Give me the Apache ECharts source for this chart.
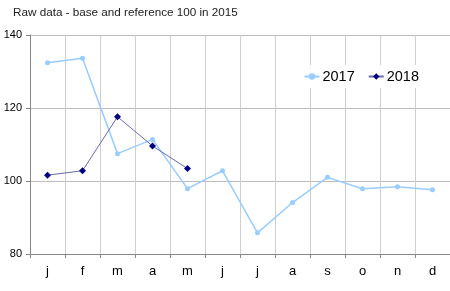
<!DOCTYPE html>
<html><head><meta charset="utf-8">
<script src="https://cdn.jsdelivr.net/npm/echarts@6/dist/echarts.min.js"></script>
<style>html,body{margin:0;padding:0;background:#fff}#c{width:450px;height:291px}</style>
</head><body><div id="c"></div>
<script>
var titleText = "Raw data - base and reference 100 in 2015";
var categories = ["j","f","m","a","m","j","j","a","s","o","n","d"];
var series2017 = [132.4,133.6,107.5,111.4,97.9,102.8,85.8,94.1,101.0,97.9,98.4,97.6];
var series2018 = [101.6,102.8,117.6,109.6,103.4];
var yTicks = [80,100,120,140];

var chart = echarts.init(document.getElementById('c'), null, {renderer:'canvas'});
chart.setOption({
  animation:false,
  backgroundColor:'#fff',
  title:{text:titleText,left:10,top:7,padding:[0,3],textStyle:{fontFamily:'Liberation Sans, Arial',fontSize:11.7,fontWeight:'normal',color:'#222'}},
  legend:{
    right:30,top:65,backgroundColor:'#fff',padding:[4,1,4,7],itemGap:13,itemWidth:15,itemHeight:8,
    textStyle:{fontFamily:'Liberation Sans, Arial',fontSize:14.5,color:'#000',padding:[0,0,0,-2]},
    data:['2017','2018']
  },
  grid:{left:30,top:35,width:432,height:219,containLabel:false},
  xAxis:{
    type:'category',data:categories,boundaryGap:true,
    axisLine:{lineStyle:{color:'#888',width:1}},
    axisTick:{show:true,length:4,alignWithLabel:false,lineStyle:{color:'#888'}},
    axisLabel:{fontFamily:'Liberation Sans, Arial',fontSize:13,color:'#000',margin:11},
    splitLine:{show:true,lineStyle:{color:'#cfcfcf',width:1}}
  },
  yAxis:{
    type:'value',min:80,max:140,interval:20,
    axisLine:{show:true,lineStyle:{color:'#888'}},
    axisTick:{show:true,length:4,lineStyle:{color:'#888'}},
    axisLabel:{fontFamily:'Liberation Sans, Arial',fontSize:11,color:'#000',margin:8,
      formatter:function(v){return yTicks.indexOf(v)>=0?String(v):'';}},
    splitLine:{show:true,lineStyle:{color:'#bdbdbd',width:1}}
  },
  series:[
    {name:'2017',type:'line',data:series2017,symbol:'circle',symbolSize:5,
     itemStyle:{color:'#99ccff'},lineStyle:{color:'#99ccff',width:1.5}},
    {name:'2018',type:'line',data:series2018,symbol:'diamond',symbolSize:7,
     itemStyle:{color:'#000080'},lineStyle:{color:'#6a6aaa',width:1}}
  ]
});
</script></body></html>
